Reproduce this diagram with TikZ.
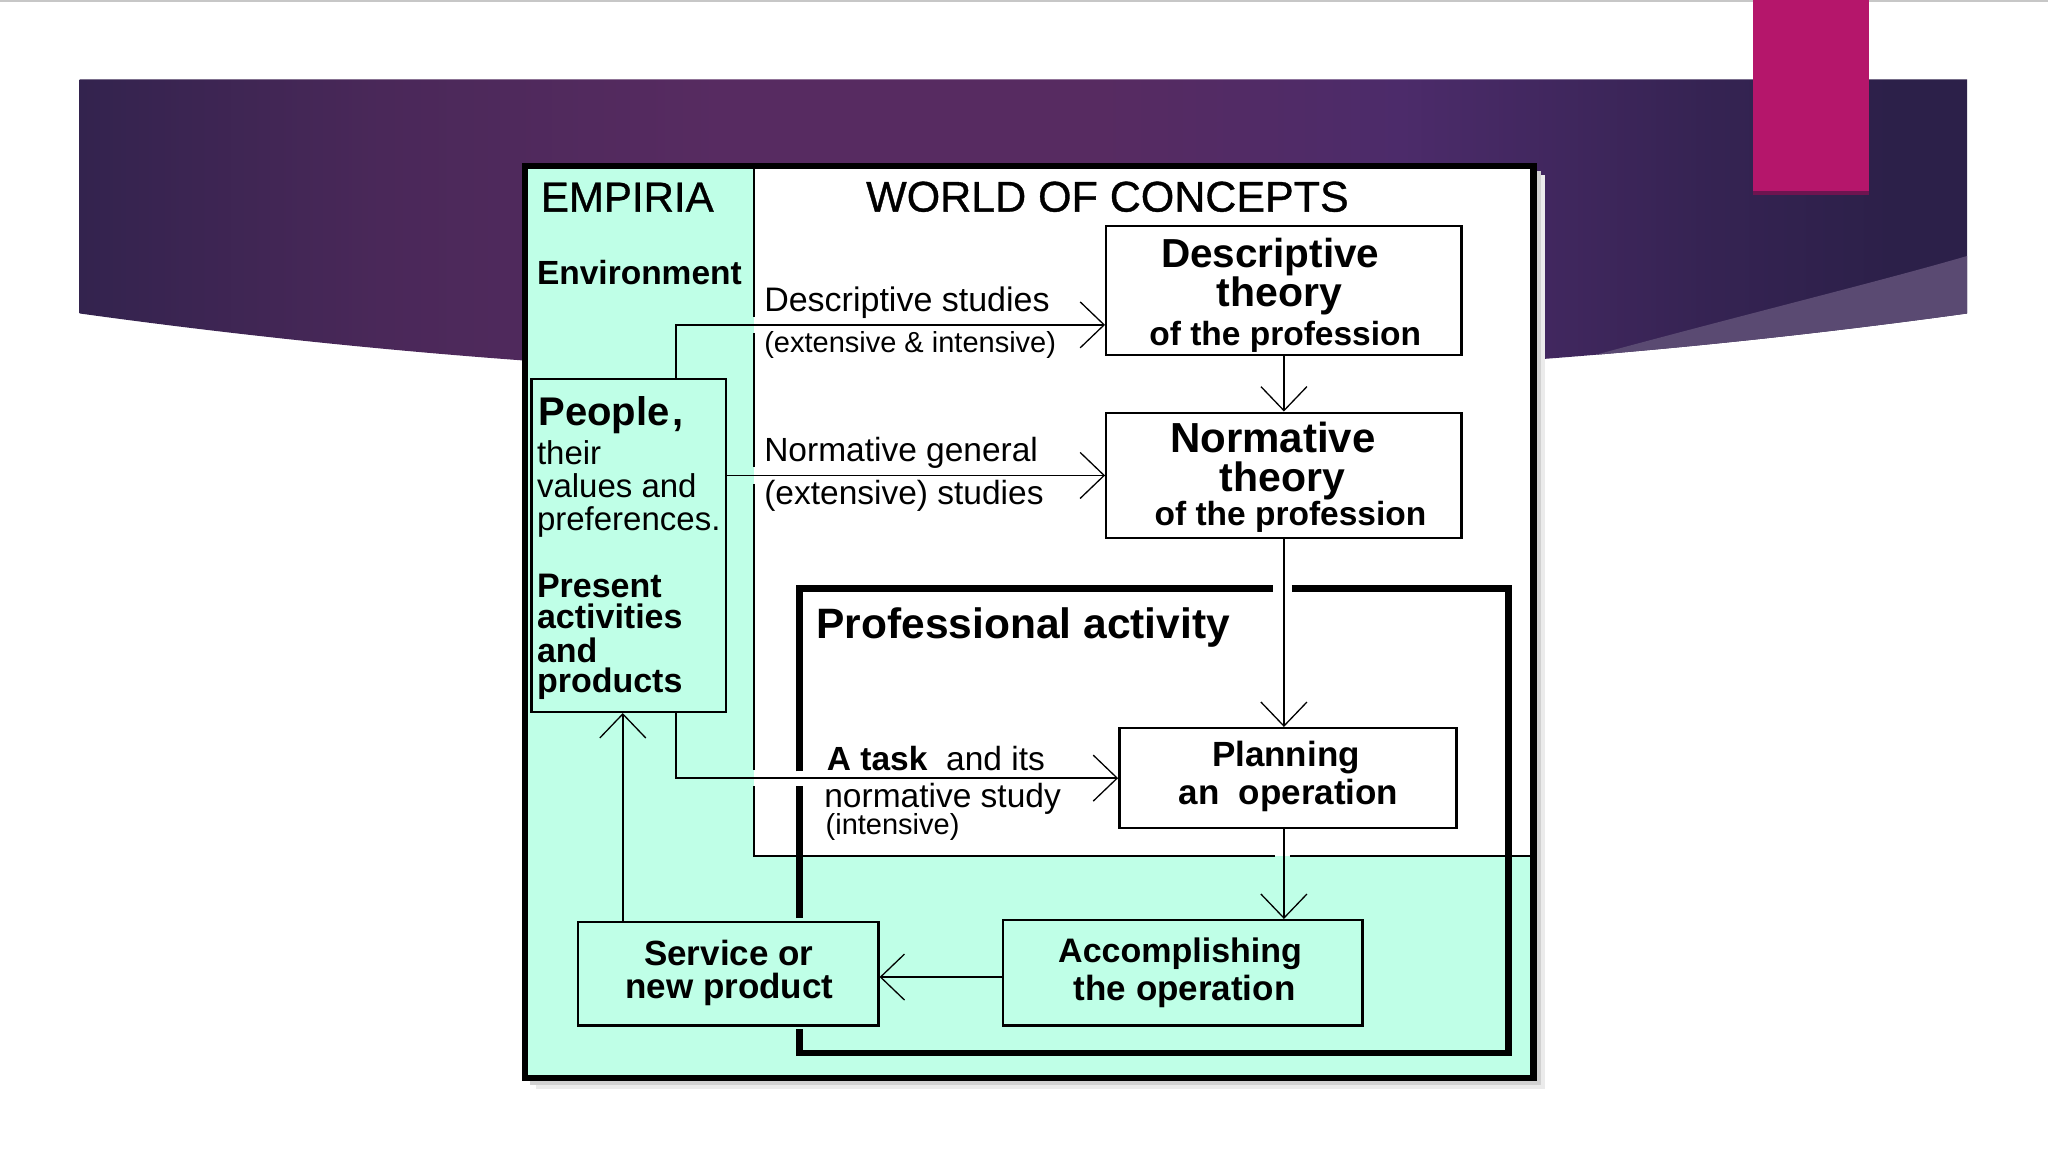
\documentclass[tikz,border=0pt]{standalone}
\usepackage{fontspec}
\setmainfont{Liberation Sans}
\newfontfamily\medfont[FakeBold=0.8]{Liberation Sans}
\usetikzlibrary{arrows.meta,calc}
\definecolor{mint}{HTML}{BFFFE7}
\definecolor{magbar}{HTML}{B5166B}
\definecolor{magshadow}{HTML}{6E1450}
\definecolor{bA}{HTML}{33234E}
\definecolor{bB}{HTML}{4A2859}
\definecolor{bC}{HTML}{572B61}
\definecolor{bD}{HTML}{4C2B6A}
\definecolor{bE}{HTML}{2C2049}
\definecolor{wedgec}{HTML}{5A4A72}
\pgfdeclarehorizontalshading{band}{100bp}{color(0bp)=(bA); color(25bp)=(bA); color(33bp)=(bB); color(42bp)=(bC); color(52bp)=(bC); color(60bp)=(bD); color(68bp)=(bE!70!bD); color(73bp)=(bE); color(100bp)=(bE)}
\newcommand\fsz[1]{\fontsize{#1}{#1}\selectfont}
\newcommand\unitpx{1.30612pt}
\begin{document}
\begin{tikzpicture}[x=1.30612pt,y=-1.30612pt,
  bx/.style={draw, line width=2.4pt, inner sep=0pt},
  arr/.style={line width=1.8pt, -{Straight Barb[length=24pt,width=46pt,line width=1.3pt]}},
  thinl/.style={line width=2pt, line cap=butt},
  thickl/.style={line width=6.5pt, line cap=butt, line join=miter},
  lt/.style={inner sep=0pt, anchor=base west},
  ct/.style={inner sep=0pt, anchor=base}]
\useasboundingbox (0,0) rectangle (1568,882);
\fill[white] (0,0) rectangle (1568,882);
\fill[black!22] (0,0) rectangle (1568,1.6);
% purple band
\path[shading=band] (61,60.7) -- (1506,60.7) -- (1506,240) .. controls (1024,306.7) and (543,306.7) .. (61,240) -- cycle;
\begin{scope}
\clip (61,60.7) -- (1506,60.7) -- (1506,240) .. controls (1024,306.7) and (543,306.7) .. (61,240) -- cycle;
\fill[wedgec] (1120,300) .. controls (1280,254) and (1420,221) .. (1506,196) -- (1520,196) -- (1520,320) -- cycle;
\end{scope}
% magenta bar
\fill[magshadow] (1342.5,0) rectangle (1431,149);
\fill[magbar] (1342.5,0) rectangle (1431,146);
% shadow of the diagram
\fill[black!8] (410,134) rectangle (1183,834);
\fill[black!18] (406,131) rectangle (1179.5,830.5);
% regions
\fill[mint] (402,127) rectangle (1174,825.5);
\fill[white] (577.5,127) rectangle (1174,655.5);
\draw[thinl] (577.5,127) -- (577.5,242.5) (577.5,255) -- (577.5,357.5) (577.5,370.5) -- (577.5,589.5) (577.5,602) -- (577.5,655.5) -- (976.5,655.5) (987.5,655.5) -- (1174,655.5);
% professional activity frame
\draw[thickl] (989,450.5) -- (1155,450.5) -- (1155,806) -- (612,806) -- (612,787.5);
\draw[thickl] (612,703) -- (612,601.5);
\draw[thickl] (612,590.5) -- (612,450.5) -- (975,450.5);
% boxes
\node[bx, fill=white, minimum width=272*\unitpx, minimum height=99*\unitpx] (desc) at (983,222.5) {};
\node[bx, fill=white, minimum width=272*\unitpx, minimum height=96*\unitpx] (norm) at (983,364) {};
\node[bx, fill=white, minimum width=258*\unitpx, minimum height=76.5*\unitpx] (plan) at (986,595.75) {};
\node[bx, fill=mint, minimum width=275*\unitpx, minimum height=80.5*\unitpx] (acc) at (905.5,744.75) {};
\node[bx, fill=mint, minimum width=230*\unitpx, minimum height=79*\unitpx] (serv) at (557.5,745.5) {};
\node[bx, fill=mint, minimum width=149*\unitpx, minimum height=255*\unitpx] (people) at (481.5,417.5) {};
% connectors
\draw[arr] ($(people.north west)!0.74!(people.north east)$) |- ($(desc.north west)!0.76!(desc.south west)$);
\draw[arr] (people.east |- norm.west) -- (norm.west);
\draw[arr] ($(people.south west)!0.74!(people.south east)$) |- (plan.west);
\draw[arr] (desc.south) -- (norm.north);
\draw[arr] (norm.south) -- (norm.south |- plan.north);
\draw[arr] (norm.south |- plan.south) -- (norm.south |- acc.north);
\coordinate (accw) at ($(acc.north west)!0.54!(acc.south west)$);
\draw[arr] (accw) -- (accw -| serv.east);
\coordinate (servn) at ($(serv.north west)!0.152!(serv.north east)$);
\draw[arr] (servn) -- (servn |- people.south);
% outer border
\draw[line width=6.5pt, line join=miter] (402,127) rectangle (1174,825.5);
% texts
\node[lt, font=\fsz{42}\medfont] (emp) at (414,162) {EMPIRIA};
\node[lt, font=\fsz{43}\medfont] (woc) at (663,162) {WORLD OF CONCEPTS};
\node[lt, font=\fsz{33.5}\bfseries] (env) at (411,218) {Environment};
\node[lt, font=\fsz{34}] (ds1) at (585,238.7) {Descriptive studies};
\node[lt, font=\fsz{29}] (ds2) at (585,270) {(extensive \& intensive)};
\node[lt, font=\fsz{33.5}] (ng1) at (585,353.6) {Normative general};
\node[lt, font=\fsz{33.5}] (ng2) at (585,386.4) {(extensive) studies};
\node[lt, font=\fsz{42.5}\bfseries] (pa) at (625,489) {Professional activity};
\node[lt, font=\fsz{33.5}] (at1) at (633,590) {\textbf{A task}\ \ and its};
\node[lt, font=\fsz{33.5}] (at2) at (631,618) {normative study};
\node[lt, font=\fsz{29}] (at3) at (632,639) {(intensive)};
\node[lt, font=\fsz{40}\bfseries] (pp1) at (412,326) {People\kern3pt,};
\node[lt, font=\fsz{33}] (pp2) at (411,356) {their};
\node[lt, font=\fsz{33}] (pp3) at (411,381) {values and};
\node[lt, font=\fsz{33}] (pp4) at (411,406.5) {preferences.};
\node[lt, font=\fsz{34}\bfseries] (pr1) at (411,457.5) {Present};
\node[lt, font=\fsz{34}\bfseries] (pr2) at (411,481.5) {activities};
\node[lt, font=\fsz{34}\bfseries] (pr3) at (411,507) {and};
\node[lt, font=\fsz{34}\bfseries] (pr4) at (411,530.5) {products};
\node[ct, font=\fsz{40.5}\bfseries] (dt1) at (972.5,204.5) {Descriptive};
\node[ct, font=\fsz{41}\bfseries] (dt2) at (979.5,234.5) {theory};
\node[ct, font=\fsz{33.5}\bfseries] (dt3) at (984,264.5) {of the profession};
\node[ct, font=\fsz{42}\bfseries] (nt1) at (974.5,346.5) {Normative};
\node[ct, font=\fsz{41}\bfseries] (nt2) at (982,376) {theory};
\node[ct, font=\fsz{33.5}\bfseries] (nt3) at (988,402.5) {of the profession};
\node[ct, font=\fsz{35}\bfseries] (pl1) at (984.5,587) {Planning};
\node[ct, font=\fsz{35}\bfseries] (pl2) at (986.5,616) {an~~operation};
\node[ct, font=\fsz{34}\bfseries] (ac1) at (903.5,737) {Accomplishing};
\node[ct, font=\fsz{35}\bfseries] (ac2) at (907,766) {the operation};
\node[ct, font=\fsz{35}\bfseries] (sv1) at (558,739.5) {Service or};
\node[ct, font=\fsz{35}\bfseries] (sv2) at (558.5,764.5) {new product};
\end{tikzpicture}
\end{document}
